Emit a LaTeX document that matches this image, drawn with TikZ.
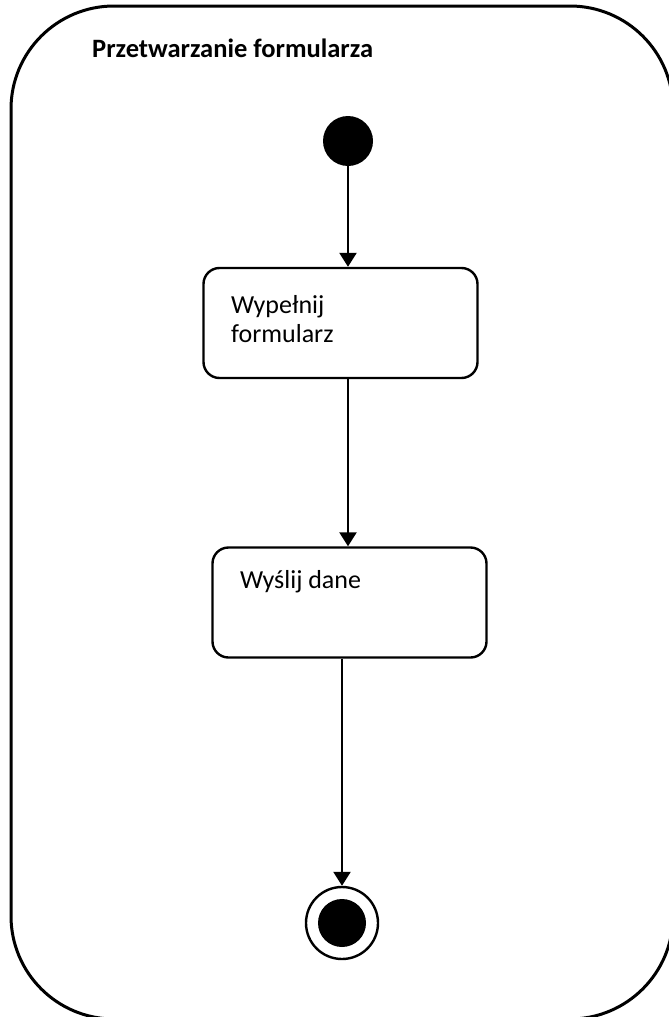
\documentclass[tikz,border=0pt]{standalone}
\usepackage{fontspec}
\setmainfont{Carlito}
\usetikzlibrary{arrows.meta}

\begin{document}
\begin{tikzpicture}[x=1pt,y=-1pt,
  every node/.style={font=\fontsize{26}{31}\selectfont},
  actbox/.style={draw,line width=2.4pt,rounded corners=16pt,minimum width=274pt,minimum height=110pt,inner sep=0pt},
  txt/.style={anchor=base west,inner sep=0pt},
  flow/.style={-{Triangle[length=14pt,width=17pt]},line width=2.4pt}]
 \useasboundingbox (0,0) rectangle (669,1017);
 \clip (0,0) rectangle (669,1017);
 % state frame
 \draw[line width=3pt,rounded corners=103pt] (11,6) rectangle (673,1019);
 \node[txt,font=\fontsize{26.5}{31}\selectfont\bfseries] (title) at (92,57) {Przetwarzanie formularza};
 % initial / actions / final
 \node[circle,fill,inner sep=0pt,minimum size=50pt] (start) at (348,141) {};
 \node[actbox] (fillform) at (340.5,323) {};
 \node[txt] (filltxta) at (231,313) {Wypełnij};
 \node[txt] (filltxtb) at (231,342) {formularz};
 \node[actbox] (senddata) at (349.5,602.5) {};
 \node[txt] (sendtxt) at (240,588) {Wyślij dane};
 \node[circle,draw,line width=2.4pt,inner sep=0pt,minimum size=72pt] (stop) at (342,923) {};
 \node[circle,fill,inner sep=0pt,minimum size=48pt] (stopdot) at (stop.center) {};
 % transitions
 \draw[flow] (start.south) -- (start.south |- fillform.north);
 \draw[flow] (fillform.south -| start) -- (senddata.north -| start);
 \draw[flow] (senddata.south -| stop) -- (stop.north);
\end{tikzpicture}
\end{document}
